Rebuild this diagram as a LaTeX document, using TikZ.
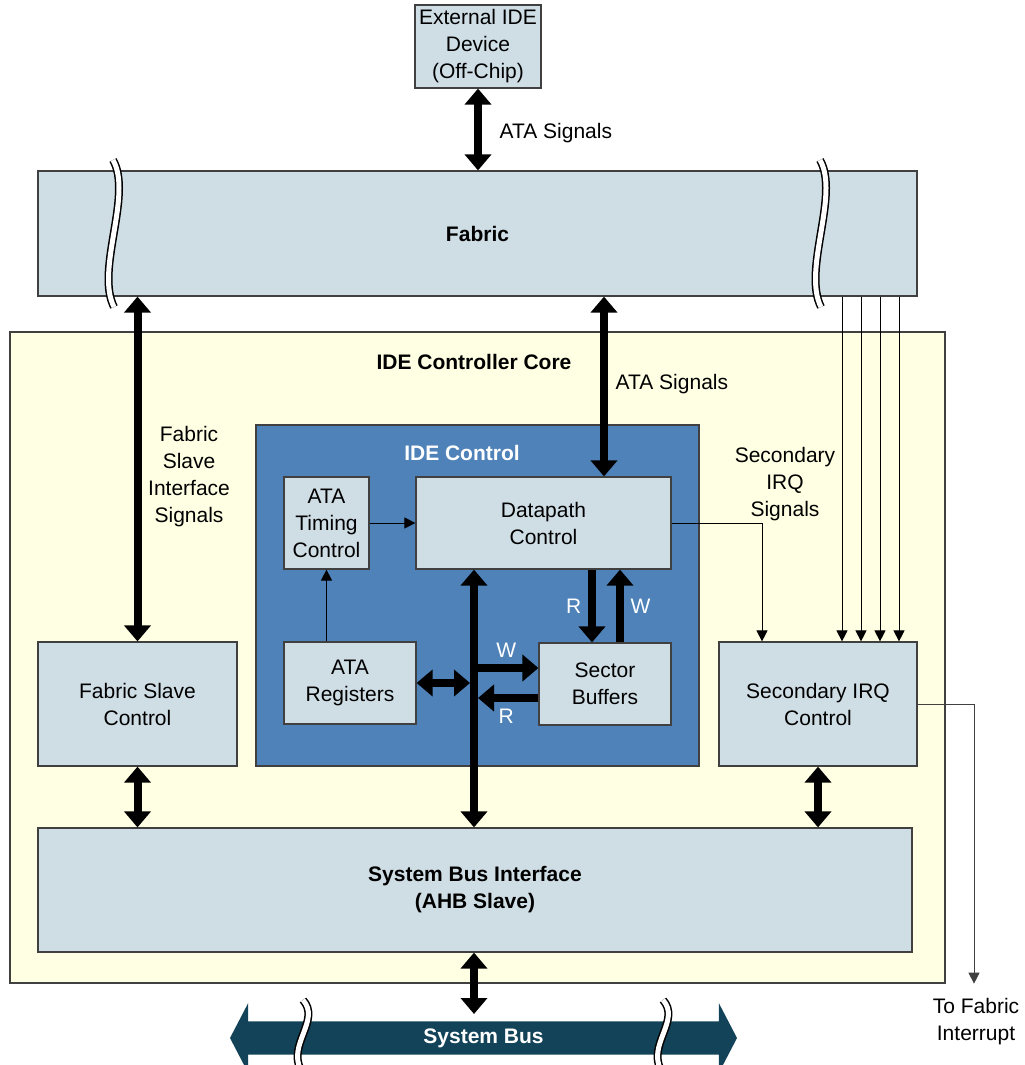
\documentclass[tikz,border=0pt]{standalone}
\usepackage{fontspec}
\setmainfont{Liberation Sans}
\usetikzlibrary{arrows.meta, shapes.arrows, positioning, calc}

\definecolor{boxfill}{HTML}{CFDDE5}
\definecolor{corefill}{HTML}{FFFFE3}
\definecolor{ctrlfill}{HTML}{4F82B8}
\definecolor{busfill}{HTML}{134359}
\definecolor{edge}{HTML}{404040}
\newcommand{\figfont}{\fontsize{10.5}{13.5}\selectfont}

\begin{document}
\begin{tikzpicture}[
      x=0.5pt, y=-0.5pt,
      font=\figfont,
      bold/.style={font=\figfont\bfseries},
      block/.style={draw=edge, fill=boxfill, line width=0.6pt, align=center, inner sep=0pt},
      frame/.style={draw=edge, line width=0.6pt, inner sep=0pt},
      bigarrow/.style={line width=4pt, {Triangle[length=8pt,width=13pt]}-{Triangle[length=8pt,width=13pt]}},
      onearrow/.style={line width=4pt, -{Triangle[length=8pt,width=13pt]}},
      thinarrow/.style={line width=0.5pt, -{Triangle[length=5.5pt,width=5.5pt]}},
      breakline/.style={draw=black, double=white, double distance=2.5pt, line width=0.75pt},
      rw/.style={text=white}
   ]
   \useasboundingbox (0,0) rectangle (1024,1065);

   % Outer blocks
   \node[block, minimum width=63pt, minimum height=41.5pt] (ext) at (478,46.5) {External IDE\\Device\\(Off-Chip)};
   \node[block, bold, minimum width=439.5pt, minimum height=62.5pt] (fabric) at (477.5,233.5) {Fabric};
   \node[frame, fill=corefill, minimum width=467.5pt, minimum height=325.5pt] (core) at (477.5,657.5) {};
   \node[bold] (coretitle) at (474,362) {IDE Controller Core};

   % IDE control group
   \node[frame, fill=ctrlfill, minimum width=221.5pt, minimum height=170.5pt] (idectl) at (477.5,595.5) {};
   \node[bold, text=white] (ctltitle) at (462,453) {IDE Control};
   \node[block, minimum width=42.5pt, minimum height=46pt] (timing) at (326.5,523) {ATA\\Timing\\Control};
   \node[block, minimum width=127.5pt, minimum height=46pt] (datapath) at (543.5,523) {Datapath\\Control};
   \node[block, minimum width=66pt, minimum height=41pt] (regs) at (350,683) {ATA\\Registers};
   \node[block, minimum width=66pt, minimum height=41pt] (sector) at (605,684) {Sector\\Buffers};

   % Side and bottom blocks
   \node[block, minimum width=99.5pt, minimum height=62pt] (fsc) at (137.5,704) {Fabric Slave\\Control};
   \node[block, minimum width=99pt, minimum height=62pt] (irq) at (818,704) {Secondary IRQ\\Control};
   \node[block, bold, minimum width=437pt, minimum height=62pt] (sbi) at (475,890) {System Bus Interface\\(AHB Slave)};
   \node[double arrow, fill=busfill, bold, text=white, inner sep=0pt, minimum height=253.5pt, minimum width=35pt,
         double arrow head extend=5.5pt, double arrow tip angle=125] (sysbus) at (483.5,1038) {System Bus};

   % Free labels
   \node[align=center] (irqlabel) at (785,484) {Secondary\\IRQ\\Signals};
   \node[align=center] (tofab) at (976,1022) {To Fabric\\Interrupt};

   % Break marks
   \foreach \bx in {113,820}
      \draw[breakline] (\bx,160) .. controls (\bx+20,195) and (\bx-18,270) .. (\bx+1,307);
   \foreach \bx in {303,663}
      \draw[breakline] (\bx,1000) .. controls (\bx+18,1020) and (\bx-16,1045) .. (\bx-2,1070);

   \coordinate (ataLane) at (604,0);
   \coordinate (busLane) at (474,0);

   % Thick connectors
   \draw[bigarrow] (ext) -- node[midway, right=5.5pt, yshift=-2pt] {ATA Signals} (ext |- fabric.north);
   \draw[bigarrow] (fsc.north |- fabric.south) -- node[midway, right=0pt, yshift=-4pt, align=center] {Fabric\\Slave\\Interface\\Signals} (fsc.north);
   \draw[bigarrow] (fabric.south -| ataLane) -- node[midway, right=0.5pt, yshift=1pt] {ATA Signals} (datapath.north -| ataLane);
   \draw[bigarrow] (datapath.south -| busLane) -- (sbi.north -| busLane);
   \draw[bigarrow] (fsc) -- (fsc |- sbi.north);
   \draw[bigarrow] (irq) -- (irq |- sbi.north);
   \draw[bigarrow] (sbi.south -| busLane) -- ([yshift=12pt]sysbus.center -| busLane);
   \draw[bigarrow, shorten >=2pt] (regs) -- (regs -| busLane);

   % Read and write paths
   \draw[onearrow] ([yshift=8pt]sector.west -| busLane) -- node[above, rw] {W} ([yshift=8pt]sector.west);
   \draw[onearrow, shorten >=2pt] ([yshift=-7pt]sector.west) -- node[below, rw] {R} ([yshift=-7pt]sector.west -| busLane);
   \draw[onearrow] ([xshift=-6.5pt]sector.north |- datapath.south) -- node[left, rw] {R} ([xshift=-6.5pt]sector.north);
   \draw[onearrow] ([xshift=7.5pt]sector.north) -- node[right, rw] {W} ([xshift=7.5pt]sector.north |- datapath.south);

   % Thin connectors
   \draw[thinarrow] (timing) -- (datapath);
   \draw[thinarrow] (timing |- regs.north) -- (timing);
   \draw[thinarrow] (datapath.east) -| ([xshift=-28pt]irq.north);
   \foreach \dx in {12,21.5,31,40.5}
      \draw[thinarrow] ([xshift=\dx pt]irq.north |- fabric.south) -- ([xshift=\dx pt]irq.north);
   \draw[thinarrow, draw=edge, shorten >=4pt] (irq.east) -| ([xshift=-1pt]tofab.north);
\end{tikzpicture}
\end{document}
